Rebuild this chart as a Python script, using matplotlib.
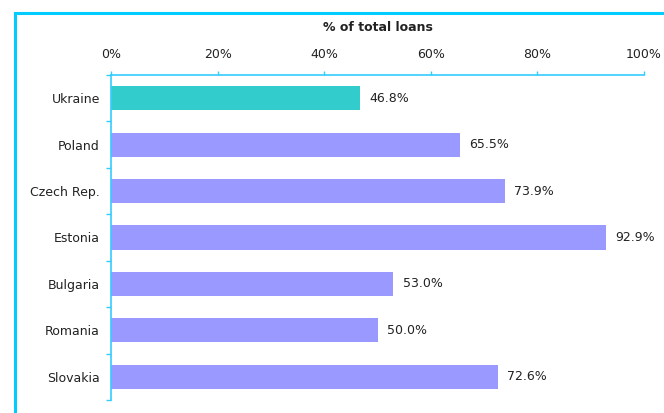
import numpy as np
import matplotlib.pyplot as plt
from matplotlib.lines import Line2D

# Share of total loans by country
countries = ["Ukraine", "Poland", "Czech Rep.", "Estonia", "Bulgaria", "Romania", "Slovakia"]
share = [46.8, 65.5, 73.9, 92.9, 53.0, 50.0, 72.6]
xticks = [0, 20, 40, 60, 80, 100]

HIGHLIGHT = "#33CCCC"
OTHER = "#9999FF"
SPINE = "#33CCFF"
FRAME = "#00CCFF"
TEXT = "#222222"
FS = 9

fig = plt.figure(figsize=(6.64, 4.13), dpi=100)
ax = fig.add_axes([111 / 664, 1 - 400 / 413, 533 / 664, 325 / 413])

y = np.arange(len(countries))
colors = [HIGHLIGHT if c == "Ukraine" else OTHER for c in countries]
bars = ax.barh(y, share, height=0.52, color=colors, zorder=2)

for b, v in zip(bars, share):
    ax.annotate(f"{v:.1f}%", (b.get_width(), b.get_y() + b.get_height() / 2),
                xytext=(6.5, 0), textcoords="offset points",
                va="center", ha="left", fontsize=FS, color=TEXT)

ax.set_xlim(0, 100)
ax.set_ylim(len(countries) - 0.5, -0.5)

# x axis on top
ax.xaxis.tick_top()
ax.set_xticks(xticks)
ax.set_xticklabels([f"{t}%" for t in xticks], fontsize=FS, color=TEXT)
ax.tick_params(axis="x", length=3, width=1, color=SPINE, pad=7)

# category labels, ticks between categories
ax.set_yticks(y)
ax.set_yticklabels(countries, fontsize=FS, color=TEXT)
ax.set_yticks(np.arange(len(countries) + 1) - 0.5, minor=True)
ax.tick_params(axis="y", which="major", length=0, pad=8)
ax.tick_params(axis="y", which="minor", length=3.5, width=1, color=SPINE)

for side in ("right", "bottom"):
    ax.spines[side].set_visible(False)
for side in ("top", "left"):
    ax.spines[side].set_color(SPINE)
    ax.spines[side].set_linewidth(1.2)

ax.set_title("% of total loans", fontsize=FS, fontweight="bold", color=TEXT, pad=31.5)

# outer frame lines
fig.add_artist(Line2D([15 / 664, 15 / 664], [0, 1 - 13 / 413],
                      transform=fig.transFigure, color=FRAME, lw=2.2))
fig.add_artist(Line2D([15 / 664, 1], [1 - 13 / 413, 1 - 13 / 413],
                      transform=fig.transFigure, color=FRAME, lw=2.2))

fig.savefig("out.png", dpi=100)
